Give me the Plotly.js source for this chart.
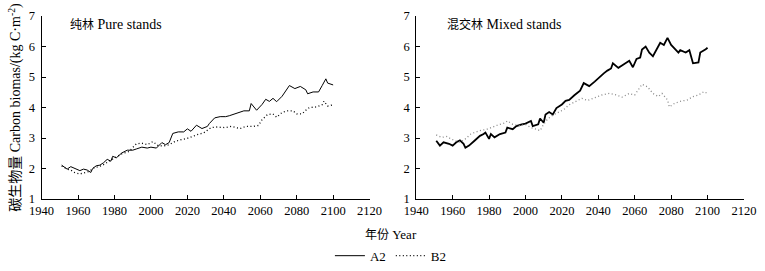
<!DOCTYPE html>
<html><head><meta charset="utf-8">
<script src="https://cdn.plot.ly/plotly-3.0.1.min.js"></script>
<style>html,body{margin:0;padding:0;background:#fff}#chart{width:765px;height:271px}</style>
</head><body><div id="chart"></div>
<script>
// Pure stands (纯林)
var pureA2Years = [1951,1954,1956,1957,1959,1961,1963,1965,1967,1968,1970,1972,1974,1976,1978,1979,1981,1984,1987,1990,1992,1995,1998,2000,2003,2006,2008,2010,2012,2015,2018,2020,2022,2025,2028,2031,2032,2035,2038,2041,2043,2047,2051,2054,2055,2058,2061,2063,2065,2067,2069,2072,2074,2076,2079,2082,2085,2086,2089,2092,2094,2096,2097,2100];
var pureA2 = [2.11,1.98,2.06,2.03,1.98,1.93,1.98,1.95,1.87,2.00,2.09,2.11,2.19,2.30,2.24,2.40,2.35,2.51,2.60,2.60,2.64,2.70,2.67,2.70,2.67,2.85,2.78,2.85,3.15,3.20,3.20,3.30,3.22,3.42,3.31,3.38,3.47,3.66,3.70,3.70,3.73,3.81,3.89,3.89,4.13,3.91,4.10,4.27,4.20,4.30,4.19,4.37,4.53,4.72,4.62,4.69,4.58,4.45,4.51,4.51,4.72,4.94,4.80,4.74];
var pureB2Years = [1951,1954,1956,1958,1961,1964,1966,1969,1973,1977,1980,1984,1988,1992,1995,1998,2001,2004,2007,2010,2013,2016,2020,2022,2025,2029,2031,2033,2036,2041,2044,2049,2052,2056,2059,2061,2064,2067,2069,2072,2075,2078,2080,2083,2085,2087,2091,2094,2095,2097,2100];
var pureB2 = [2.08,1.98,1.95,1.87,1.82,1.87,1.90,2.03,2.09,2.24,2.35,2.48,2.56,2.81,2.83,2.78,2.88,2.75,2.74,2.78,2.88,2.94,2.99,3.04,3.10,3.17,3.26,3.34,3.36,3.34,3.38,3.31,3.38,3.38,3.41,3.60,3.77,3.79,3.68,3.84,3.89,3.89,3.79,3.79,3.91,4.00,4.02,4.09,4.21,4.05,4.09];
// Mixed stands (混交林)
var mixA2Years = [1951,1953,1955,1957,1958,1960,1962,1964,1966,1967,1969,1972,1975,1977,1978,1980,1981,1983,1986,1989,1990,1993,1995,1998,2000,2003,2004,2007,2008,2010,2011,2013,2015,2017,2020,2022,2024,2027,2030,2032,2035,2038,2041,2043,2045,2047,2048,2051,2053,2056,2057,2059,2061,2063,2064,2066,2068,2070,2072,2074,2076,2078,2080,2082,2084,2085,2088,2090,2092,2095,2096,2099,2100];
var mixA2 = [2.91,2.75,2.86,2.83,2.81,2.75,2.86,2.92,2.81,2.68,2.75,2.91,3.07,3.13,3.18,2.97,3.13,3.02,3.13,3.18,3.34,3.29,3.39,3.45,3.47,3.56,3.39,3.45,3.64,3.50,3.77,3.85,3.77,3.98,4.10,4.22,4.25,4.41,4.55,4.80,4.70,4.85,5.02,5.12,5.21,5.28,5.45,5.30,5.38,5.48,5.53,5.32,5.59,5.64,5.90,6.00,5.80,5.68,5.90,6.12,6.05,6.28,6.05,5.91,5.80,5.88,5.80,5.88,5.45,5.48,5.80,5.91,5.96];
var mixB2Years = [1951,1954,1957,1959,1962,1964,1967,1970,1972,1975,1979,1981,1985,1989,1990,1993,1997,2000,2003,2006,2008,2010,2012,2015,2021,2024,2028,2031,2034,2039,2042,2046,2050,2053,2057,2060,2063,2064,2067,2070,2073,2075,2078,2079,2082,2085,2089,2092,2095,2098,2100];
var mixB2 = [3.10,3.02,3.05,2.97,2.90,2.86,2.97,3.13,3.18,3.24,3.29,3.34,3.43,3.50,3.56,3.45,3.40,3.45,3.34,3.29,3.24,3.45,3.61,3.75,3.93,4.09,4.20,4.30,4.23,4.34,4.41,4.46,4.41,4.34,4.46,4.41,4.68,4.76,4.68,4.46,4.36,4.46,4.25,4.02,4.14,4.20,4.25,4.36,4.41,4.52,4.46];
var xTicks = [1940,1960,1980,2000,2020,2040,2060,2080,2100,2120];
var yTicks = [1,2,3,4,5,6,7];

var FONT = 'Liberation Serif, "Times New Roman", "Noto Sans CJK SC", serif';
var traces = [
  {x: pureA2Years, y: pureA2, xaxis:'x', yaxis:'y', mode:'lines', name:'A2', legendgroup:'A2',
   line:{color:'#000', width:1}},
  {x: pureB2Years, y: pureB2, xaxis:'x', yaxis:'y', mode:'lines', name:'B2', legendgroup:'B2',
   line:{color:'#000', width:1.3, dash:'1px,2.5px'}},
  {x: mixA2Years, y: mixA2, xaxis:'x2', yaxis:'y2', mode:'lines', name:'A2', legendgroup:'A2', showlegend:false,
   line:{color:'#000', width:1.8}},
  {x: mixB2Years, y: mixB2, xaxis:'x2', yaxis:'y2', mode:'lines', name:'B2', legendgroup:'B2', showlegend:false,
   line:{color:'#888', width:1.3, dash:'1px,2.5px'}}
];
function xa(dom){ return {domain:dom, range:[1940,2120], tickvals:xTicks, ticks:'inside', ticklen:4, tickcolor:'#000',
  showline:true, linecolor:'#000', linewidth:1, showgrid:false, zeroline:false, tickfont:{family:FONT,size:12.5,color:'#000'}}; }
function ya(anchor){ return {domain:[0,1], anchor:anchor, range:[1,7], tickvals:yTicks, ticks:'inside', ticklen:4, tickcolor:'#000',
  ticklabelstandoff:3,
  showline:true, linecolor:'#000', linewidth:1, showgrid:false, zeroline:false, tickfont:{family:FONT,size:12.5,color:'#000'}}; }
var layout = {
  width:765, height:271, margin:{l:0,r:0,t:16,b:67}, paper_bgcolor:'#fff', plot_bgcolor:'#fff',
  font:{family:FONT, color:'#000'},
  xaxis: Object.assign(xa([0.0544,0.4831]), {anchor:'y'}),
  yaxis: Object.assign(ya('x'), {title:{text:'<span style="font-size:14px">碳生物量</span> Carbon biomas/(kg C·m<sup>-2</sup>)', font:{family:FONT,size:14,color:'#000'}, standoff:4}}),
  xaxis2: Object.assign(xa([0.5441,0.9725]), {anchor:'y2'}),
  yaxis2: ya('x2'),
  showlegend:true,
  legend:{orientation:'h', x:0.511, xanchor:'center', y:-0.31, yanchor:'middle', font:{family:FONT,size:13,color:'#000'}, itemwidth:30, tracegroupgap:0},
  annotations:[
    {xref:'paper', yref:'paper', x:68/765, y:1-(25-16)/188, xanchor:'left', yanchor:'middle', showarrow:false,
     text:'<span style="font-size:12px">纯林</span> Pure stands', font:{family:FONT,size:14,color:'#000'}},
    {xref:'paper', yref:'paper', x:445/765, y:1-(25-16)/188, xanchor:'left', yanchor:'middle', showarrow:false,
     text:'<span style="font-size:12px">混交林</span> Mixed stands', font:{family:FONT,size:14,color:'#000'}},
    {xref:'paper', yref:'paper', x:391/765, y:-(240-204)/188, xanchor:'center', yanchor:'middle', showarrow:false,
     text:'<span style="font-size:12px">年份</span> Year', font:{family:FONT,size:13,color:'#000'}}
  ]
};
Plotly.newPlot('chart', traces, layout, {staticPlot:true, displayModeBar:false});
</script></body></html>
